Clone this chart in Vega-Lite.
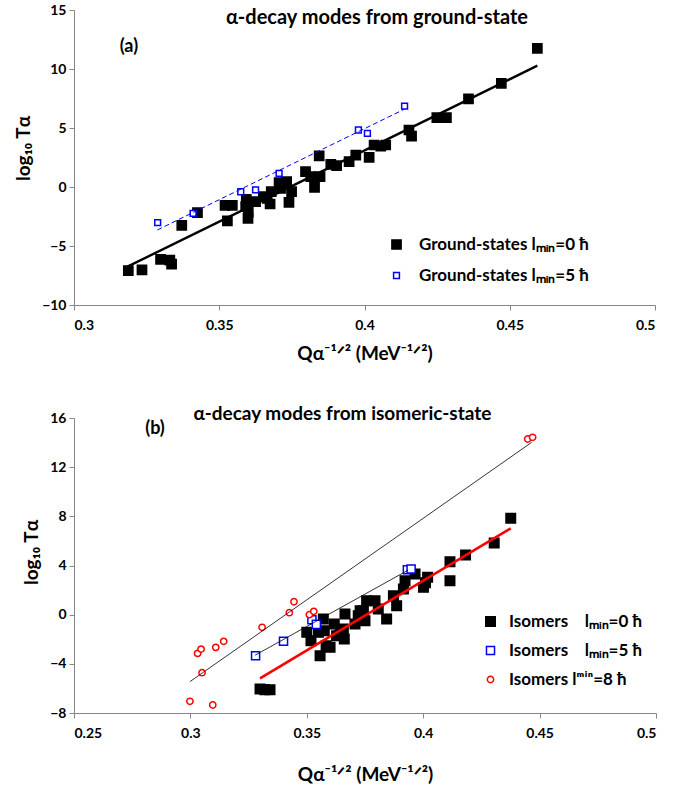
{
  "$schema": "https://vega.github.io/schema/vega-lite/v6.json",
  "background": "white",
  "padding": {"left": 14, "top": 3, "right": 5, "bottom": 3},
  "config": {
    "view": {"stroke": null},
    "font": "Lato",
    "axis": {"grid": false, "domainColor": "#868686", "tickColor": "#868686", "tickSize": 5, "labelFont": "Lato", "labelFontWeight": "bold", "labelFontSize": 14, "labelColor": "#000000", "titleFont": "Lato", "titleFontWeight": "bold", "titleFontSize": 19, "titleColor": "#000000"},
    "axisX": {"labelPadding": 8, "titlePadding": 12},
    "axisY": {"labelPadding": 3, "titlePadding": 8},
    "legend": {"title": null, "orient": "none", "labelFont": "Lato", "labelFontSize": 17, "labelFontWeight": "bold", "labelColor": "#000000", "labelLimit": 400, "symbolStrokeWidth": 1.5}
  },
  "datasets": {
    "ga": [
      {"x": 0.3187, "y": -7.09, "s": "Ground-states lₘᵢₙ=0 ħ"},
      {"x": 0.3234, "y": -7.03, "s": "Ground-states lₘᵢₙ=0 ħ"},
      {"x": 0.3298, "y": -6.13, "s": "Ground-states lₘᵢₙ=0 ħ"},
      {"x": 0.3330, "y": -6.19, "s": "Ground-states lₘᵢₙ=0 ħ"},
      {"x": 0.3336, "y": -6.53, "s": "Ground-states lₘᵢₙ=0 ħ"},
      {"x": 0.3371, "y": -3.25, "s": "Ground-states lₘᵢₙ=0 ħ"},
      {"x": 0.3425, "y": -2.18, "s": "Ground-states lₘᵢₙ=0 ħ"},
      {"x": 0.3520, "y": -1.55, "s": "Ground-states lₘᵢₙ=0 ħ"},
      {"x": 0.3545, "y": -1.55, "s": "Ground-states lₘᵢₙ=0 ħ"},
      {"x": 0.3528, "y": -2.88, "s": "Ground-states lₘᵢₙ=0 ħ"},
      {"x": 0.3593, "y": -1.04, "s": "Ground-states lₘᵢₙ=0 ħ"},
      {"x": 0.3591, "y": -1.67, "s": "Ground-states lₘᵢₙ=0 ħ"},
      {"x": 0.3600, "y": -2.12, "s": "Ground-states lₘᵢₙ=0 ħ"},
      {"x": 0.3599, "y": -2.65, "s": "Ground-states lₘᵢₙ=0 ħ"},
      {"x": 0.3625, "y": -1.24, "s": "Ground-states lₘᵢₙ=0 ħ"},
      {"x": 0.3652, "y": -0.82, "s": "Ground-states lₘᵢₙ=0 ħ"},
      {"x": 0.3665, "y": -0.96, "s": "Ground-states lₘᵢₙ=0 ħ"},
      {"x": 0.3675, "y": -1.44, "s": "Ground-states lₘᵢₙ=0 ħ"},
      {"x": 0.3679, "y": -0.40, "s": "Ground-states lₘᵢₙ=0 ħ"},
      {"x": 0.3706, "y": 0.37, "s": "Ground-states lₘᵢₙ=0 ħ"},
      {"x": 0.3732, "y": 0.45, "s": "Ground-states lₘᵢₙ=0 ħ"},
      {"x": 0.3711, "y": -0.11, "s": "Ground-states lₘᵢₙ=0 ħ"},
      {"x": 0.3749, "y": -0.40, "s": "Ground-states lₘᵢₙ=0 ħ"},
      {"x": 0.3740, "y": -1.30, "s": "Ground-states lₘᵢₙ=0 ħ"},
      {"x": 0.3797, "y": 1.30, "s": "Ground-states lₘᵢₙ=0 ħ"},
      {"x": 0.3815, "y": 0.88, "s": "Ground-states lₘᵢₙ=0 ħ"},
      {"x": 0.3828, "y": -0.03, "s": "Ground-states lₘᵢₙ=0 ħ"},
      {"x": 0.3847, "y": 0.88, "s": "Ground-states lₘᵢₙ=0 ħ"},
      {"x": 0.3844, "y": 2.63, "s": "Ground-states lₘᵢₙ=0 ħ"},
      {"x": 0.3884, "y": 1.92, "s": "Ground-states lₘᵢₙ=0 ħ"},
      {"x": 0.3904, "y": 1.81, "s": "Ground-states lₘᵢₙ=0 ħ"},
      {"x": 0.3947, "y": 2.15, "s": "Ground-states lₘᵢₙ=0 ħ"},
      {"x": 0.3970, "y": 2.71, "s": "Ground-states lₘᵢₙ=0 ħ"},
      {"x": 0.4016, "y": 2.51, "s": "Ground-states lₘᵢₙ=0 ħ"},
      {"x": 0.4033, "y": 3.56, "s": "Ground-states lₘᵢₙ=0 ħ"},
      {"x": 0.4056, "y": 3.47, "s": "Ground-states lₘᵢₙ=0 ħ"},
      {"x": 0.4073, "y": 3.56, "s": "Ground-states lₘᵢₙ=0 ħ"},
      {"x": 0.4153, "y": 4.83, "s": "Ground-states lₘᵢₙ=0 ħ"},
      {"x": 0.4162, "y": 4.32, "s": "Ground-states lₘᵢₙ=0 ħ"},
      {"x": 0.4249, "y": 5.88, "s": "Ground-states lₘᵢₙ=0 ħ"},
      {"x": 0.4282, "y": 5.88, "s": "Ground-states lₘᵢₙ=0 ħ"},
      {"x": 0.4358, "y": 7.46, "s": "Ground-states lₘᵢₙ=0 ħ"},
      {"x": 0.4471, "y": 8.79, "s": "Ground-states lₘᵢₙ=0 ħ"},
      {"x": 0.4595, "y": 11.75, "s": "Ground-states lₘᵢₙ=0 ħ"},
      {"x": 0.3288, "y": -3.02, "s": "Ground-states lₘᵢₙ=5 ħ"},
      {"x": 0.3410, "y": -2.23, "s": "Ground-states lₘᵢₙ=5 ħ"},
      {"x": 0.3574, "y": -0.40, "s": "Ground-states lₘᵢₙ=5 ħ"},
      {"x": 0.3625, "y": -0.25, "s": "Ground-states lₘᵢₙ=5 ħ"},
      {"x": 0.3706, "y": 1.16, "s": "Ground-states lₘᵢₙ=5 ħ"},
      {"x": 0.3979, "y": 4.83, "s": "Ground-states lₘᵢₙ=5 ħ"},
      {"x": 0.4010, "y": 4.55, "s": "Ground-states lₘᵢₙ=5 ħ"},
      {"x": 0.4138, "y": 6.86, "s": "Ground-states lₘᵢₙ=5 ħ"}
    ],
    "fitA0": [{"x": 0.3184, "y": -6.75}, {"x": 0.4595, "y": 10.28}],
    "fitA5": [{"x": 0.3287, "y": -3.64}, {"x": 0.4136, "y": 6.58}],
    "gb": [
      {"x": 0.3299, "y": -6.05, "s": "Isomers\u00a0\u00a0\u00a0\u00a0lₘᵢₙ=0 ħ"},
      {"x": 0.3320, "y": -6.10, "s": "Isomers\u00a0\u00a0\u00a0\u00a0lₘᵢₙ=0 ħ"},
      {"x": 0.3342, "y": -6.10, "s": "Isomers\u00a0\u00a0\u00a0\u00a0lₘᵢₙ=0 ħ"},
      {"x": 0.3500, "y": -1.44, "s": "Isomers\u00a0\u00a0\u00a0\u00a0lₘᵢₙ=0 ħ"},
      {"x": 0.3518, "y": -2.12, "s": "Isomers\u00a0\u00a0\u00a0\u00a0lₘᵢₙ=0 ħ"},
      {"x": 0.3550, "y": -1.44, "s": "Isomers\u00a0\u00a0\u00a0\u00a0lₘᵢₙ=0 ħ"},
      {"x": 0.3571, "y": -0.36, "s": "Isomers\u00a0\u00a0\u00a0\u00a0lₘᵢₙ=0 ħ"},
      {"x": 0.3557, "y": -3.34, "s": "Isomers\u00a0\u00a0\u00a0\u00a0lₘᵢₙ=0 ħ"},
      {"x": 0.3575, "y": -1.31, "s": "Isomers\u00a0\u00a0\u00a0\u00a0lₘᵢₙ=0 ħ"},
      {"x": 0.3583, "y": -2.53, "s": "Isomers\u00a0\u00a0\u00a0\u00a0lₘᵢₙ=0 ħ"},
      {"x": 0.3600, "y": -2.66, "s": "Isomers\u00a0\u00a0\u00a0\u00a0lₘᵢₙ=0 ħ"},
      {"x": 0.3618, "y": -0.76, "s": "Isomers\u00a0\u00a0\u00a0\u00a0lₘᵢₙ=0 ħ"},
      {"x": 0.3628, "y": -1.71, "s": "Isomers\u00a0\u00a0\u00a0\u00a0lₘᵢₙ=0 ħ"},
      {"x": 0.3643, "y": -1.58, "s": "Isomers\u00a0\u00a0\u00a0\u00a0lₘᵢₙ=0 ħ"},
      {"x": 0.3657, "y": -1.17, "s": "Isomers\u00a0\u00a0\u00a0\u00a0lₘᵢₙ=0 ħ"},
      {"x": 0.3661, "y": -1.98, "s": "Isomers\u00a0\u00a0\u00a0\u00a0lₘᵢₙ=0 ħ"},
      {"x": 0.3664, "y": 0.05, "s": "Isomers\u00a0\u00a0\u00a0\u00a0lₘᵢₙ=0 ħ"},
      {"x": 0.3707, "y": -0.76, "s": "Isomers\u00a0\u00a0\u00a0\u00a0lₘᵢₙ=0 ħ"},
      {"x": 0.3721, "y": -0.09, "s": "Isomers\u00a0\u00a0\u00a0\u00a0lₘᵢₙ=0 ħ"},
      {"x": 0.3729, "y": 0.32, "s": "Isomers\u00a0\u00a0\u00a0\u00a0lₘᵢₙ=0 ħ"},
      {"x": 0.3743, "y": 0.32, "s": "Isomers\u00a0\u00a0\u00a0\u00a0lₘᵢₙ=0 ħ"},
      {"x": 0.3750, "y": -0.49, "s": "Isomers\u00a0\u00a0\u00a0\u00a0lₘᵢₙ=0 ħ"},
      {"x": 0.3757, "y": 1.14, "s": "Isomers\u00a0\u00a0\u00a0\u00a0lₘᵢₙ=0 ħ"},
      {"x": 0.3793, "y": 1.14, "s": "Isomers\u00a0\u00a0\u00a0\u00a0lₘᵢₙ=0 ħ"},
      {"x": 0.3807, "y": 0.46, "s": "Isomers\u00a0\u00a0\u00a0\u00a0lₘᵢₙ=0 ħ"},
      {"x": 0.3843, "y": -0.36, "s": "Isomers\u00a0\u00a0\u00a0\u00a0lₘᵢₙ=0 ħ"},
      {"x": 0.3872, "y": 1.54, "s": "Isomers\u00a0\u00a0\u00a0\u00a0lₘᵢₙ=0 ħ"},
      {"x": 0.3886, "y": 0.73, "s": "Isomers\u00a0\u00a0\u00a0\u00a0lₘᵢₙ=0 ħ"},
      {"x": 0.3915, "y": 2.09, "s": "Isomers\u00a0\u00a0\u00a0\u00a0lₘᵢₙ=0 ħ"},
      {"x": 0.3922, "y": 2.76, "s": "Isomers\u00a0\u00a0\u00a0\u00a0lₘᵢₙ=0 ħ"},
      {"x": 0.3965, "y": 3.31, "s": "Isomers\u00a0\u00a0\u00a0\u00a0lₘᵢₙ=0 ħ"},
      {"x": 0.4001, "y": 2.22, "s": "Isomers\u00a0\u00a0\u00a0\u00a0lₘᵢₙ=0 ħ"},
      {"x": 0.4010, "y": 2.60, "s": "Isomers\u00a0\u00a0\u00a0\u00a0lₘᵢₙ=0 ħ"},
      {"x": 0.4019, "y": 3.04, "s": "Isomers\u00a0\u00a0\u00a0\u00a0lₘᵢₙ=0 ħ"},
      {"x": 0.4115, "y": 4.31, "s": "Isomers\u00a0\u00a0\u00a0\u00a0lₘᵢₙ=0 ħ"},
      {"x": 0.4115, "y": 2.76, "s": "Isomers\u00a0\u00a0\u00a0\u00a0lₘᵢₙ=0 ħ"},
      {"x": 0.4182, "y": 4.85, "s": "Isomers\u00a0\u00a0\u00a0\u00a0lₘᵢₙ=0 ħ"},
      {"x": 0.4305, "y": 5.83, "s": "Isomers\u00a0\u00a0\u00a0\u00a0lₘᵢₙ=0 ħ"},
      {"x": 0.4376, "y": 7.84, "s": "Isomers\u00a0\u00a0\u00a0\u00a0lₘᵢₙ=0 ħ"},
      {"x": 0.3280, "y": -3.34, "s": "Isomers\u00a0\u00a0\u00a0\u00a0lₘᵢₙ=5 ħ"},
      {"x": 0.3400, "y": -2.17, "s": "Isomers\u00a0\u00a0\u00a0\u00a0lₘᵢₙ=5 ħ"},
      {"x": 0.3522, "y": -0.41, "s": "Isomers\u00a0\u00a0\u00a0\u00a0lₘᵢₙ=5 ħ"},
      {"x": 0.3541, "y": -0.79, "s": "Isomers\u00a0\u00a0\u00a0\u00a0lₘᵢₙ=5 ħ"},
      {"x": 0.3932, "y": 3.66, "s": "Isomers\u00a0\u00a0\u00a0\u00a0lₘᵢₙ=5 ħ"},
      {"x": 0.3948, "y": 3.71, "s": "Isomers\u00a0\u00a0\u00a0\u00a0lₘᵢₙ=5 ħ"},
      {"x": 0.2998, "y": -7.05, "s": "Isomers lᵐⁱⁿ=8 ħ"},
      {"x": 0.3096, "y": -7.35, "s": "Isomers lᵐⁱⁿ=8 ħ"},
      {"x": 0.3031, "y": -3.15, "s": "Isomers lᵐⁱⁿ=8 ħ"},
      {"x": 0.3046, "y": -2.80, "s": "Isomers lᵐⁱⁿ=8 ħ"},
      {"x": 0.3050, "y": -4.72, "s": "Isomers lᵐⁱⁿ=8 ħ"},
      {"x": 0.3109, "y": -2.66, "s": "Isomers lᵐⁱⁿ=8 ħ"},
      {"x": 0.3143, "y": -2.17, "s": "Isomers lᵐⁱⁿ=8 ħ"},
      {"x": 0.3308, "y": -1.03, "s": "Isomers lᵐⁱⁿ=8 ħ"},
      {"x": 0.3425, "y": 0.16, "s": "Isomers lᵐⁱⁿ=8 ħ"},
      {"x": 0.3445, "y": 1.05, "s": "Isomers lᵐⁱⁿ=8 ħ"},
      {"x": 0.3511, "y": 0.00, "s": "Isomers lᵐⁱⁿ=8 ħ"},
      {"x": 0.3530, "y": 0.27, "s": "Isomers lᵐⁱⁿ=8 ħ"},
      {"x": 0.4449, "y": 14.29, "s": "Isomers lᵐⁱⁿ=8 ħ"},
      {"x": 0.4470, "y": 14.43, "s": "Isomers lᵐⁱⁿ=8 ħ"}
    ],
    "fitB8": [{"x": 0.2998, "y": -5.45}, {"x": 0.4466, "y": 14.02}],
    "fitB5": [{"x": 0.3278, "y": -3.3}, {"x": 0.3935, "y": 3.62}],
    "fitB0": [{"x": 0.3299, "y": -5.18}, {"x": 0.4376, "y": 7.02}]
  },
  "vconcat": [
    {
      "width": 581,
      "height": 295,
      "encoding": {
        "x": {"field": "x", "type": "quantitative", "scale": {"domain": [0.3, 0.5], "nice": false, "zero": false}, "axis": {"values": [0.3, 0.35, 0.4, 0.45, 0.5], "format": "~g", "title": "Qα⁻¹ᐟ² (MeV⁻¹ᐟ²)"}},
        "y": {"field": "y", "type": "quantitative", "scale": {"domain": [-10, 15], "nice": false, "zero": false}, "axis": {"values": [-10, -5, 0, 5, 10, 15], "title": "log₁₀ Tα", "titleY": 138}}
      },
      "layer": [
        {
          "data": {"name": "ga"},
          "mark": {"type": "point", "filled": true, "opacity": 1, "fillOpacity": 1, "strokeWidth": 1.5},
          "encoding": {
            "shape": {"field": "s", "type": "nominal", "scale": {"domain": ["Ground-states lₘᵢₙ=0 ħ", "Ground-states lₘᵢₙ=5 ħ"], "range": ["square", "square"]}, "legend": {"legendX": 314, "legendY": 226, "rowPadding": 13, "labelOffset": 14}},
            "fill": {"field": "s", "type": "nominal", "scale": {"domain": ["Ground-states lₘᵢₙ=0 ħ", "Ground-states lₘᵢₙ=5 ħ"], "range": ["#000000", "#ffffff"]}, "legend": {"legendX": 314, "legendY": 226, "rowPadding": 13, "labelOffset": 14}},
            "stroke": {"field": "s", "type": "nominal", "scale": {"domain": ["Ground-states lₘᵢₙ=0 ħ", "Ground-states lₘᵢₙ=5 ħ"], "range": ["#000000", "#0000ff"]}, "legend": {"legendX": 314, "legendY": 226, "rowPadding": 13, "labelOffset": 14}},
            "size": {"field": "s", "type": "ordinal", "scale": {"domain": ["Ground-states lₘᵢₙ=0 ħ", "Ground-states lₘᵢₙ=5 ħ"], "range": [85, 34]}, "legend": {"legendX": 314, "legendY": 226, "rowPadding": 13, "labelOffset": 14}}
          }
        },
        {
          "data": {"name": "fitA0"},
          "mark": {"type": "line", "color": "#000000", "strokeWidth": 2.4},
          "encoding": {}
        },
        {
          "data": {"name": "fitA5"},
          "mark": {"type": "line", "color": "#0000ff", "strokeWidth": 1, "strokeDash": [5, 3]},
          "encoding": {}
        },
        {
          "data": {"values": [{"x": 0.4043, "y": 14.3, "t": "α-decay modes from ground-state"}]},
          "mark": {"type": "text", "font": "Lato", "fontWeight": "bold", "fontSize": 20, "color": "#000000", "baseline": "middle", "align": "center"},
          "encoding": {"text": {"field": "t"}}
        },
        {
          "data": {"values": [{"x": 0.3189, "y": 11.86, "t": "(a)"}]},
          "mark": {"type": "text", "font": "Lato", "fontWeight": "bold", "fontSize": 18, "color": "#000000", "baseline": "middle", "align": "center"},
          "encoding": {"text": {"field": "t"}}
        }
      ]
    },
    {
      "width": 582,
      "height": 295,
      "encoding": {
        "x": {"field": "x", "type": "quantitative", "scale": {"domain": [0.25, 0.5], "nice": false, "zero": false}, "axis": {"values": [0.25, 0.3, 0.35, 0.4, 0.45, 0.5], "format": "~g", "title": "Qα⁻¹ᐟ² (MeV⁻¹ᐟ²)", "titlePadding": 25}},
        "y": {"field": "y", "type": "quantitative", "scale": {"domain": [-8, 16], "nice": false, "zero": false}, "axis": {"values": [-8, -4, 0, 4, 8, 12, 16], "title": "log₁₀ Tα", "titleY": 134}}
      },
      "layer": [
        {
          "data": {"name": "gb"},
          "mark": {"type": "point", "filled": true, "opacity": 1, "fillOpacity": 1, "strokeWidth": 1.5},
          "encoding": {
            "shape": {"field": "s", "type": "nominal", "scale": {"domain": ["Isomers\u00a0\u00a0\u00a0\u00a0lₘᵢₙ=0 ħ", "Isomers\u00a0\u00a0\u00a0\u00a0lₘᵢₙ=5 ħ", "Isomers lᵐⁱⁿ=8 ħ"], "range": ["square", "square", "circle"]}, "legend": {"legendX": 408, "legendY": 195, "rowPadding": 11, "labelOffset": 10}},
            "fill": {"field": "s", "type": "nominal", "scale": {"domain": ["Isomers\u00a0\u00a0\u00a0\u00a0lₘᵢₙ=0 ħ", "Isomers\u00a0\u00a0\u00a0\u00a0lₘᵢₙ=5 ħ", "Isomers lᵐⁱⁿ=8 ħ"], "range": ["#000000", "#ffffff", "#ffffff"]}, "legend": {"legendX": 408, "legendY": 195, "rowPadding": 11, "labelOffset": 10}},
            "stroke": {"field": "s", "type": "nominal", "scale": {"domain": ["Isomers\u00a0\u00a0\u00a0\u00a0lₘᵢₙ=0 ħ", "Isomers\u00a0\u00a0\u00a0\u00a0lₘᵢₙ=5 ħ", "Isomers lᵐⁱⁿ=8 ħ"], "range": ["#000000", "#0000ff", "#ff0000"]}, "legend": {"legendX": 408, "legendY": 195, "rowPadding": 11, "labelOffset": 10}},
            "size": {"field": "s", "type": "ordinal", "scale": {"domain": ["Isomers\u00a0\u00a0\u00a0\u00a0lₘᵢₙ=0 ħ", "Isomers\u00a0\u00a0\u00a0\u00a0lₘᵢₙ=5 ħ", "Isomers lᵐⁱⁿ=8 ħ"], "range": [90, 40, 70]}, "legend": {"legendX": 408, "legendY": 195, "rowPadding": 11, "labelOffset": 10}}
          }
        },
        {
          "data": {"name": "fitB8"},
          "mark": {"type": "line", "color": "#000000", "strokeWidth": 0.8},
          "encoding": {}
        },
        {
          "data": {"name": "fitB5"},
          "mark": {"type": "line", "color": "#000000", "strokeWidth": 0.8},
          "encoding": {}
        },
        {
          "data": {"name": "fitB0"},
          "mark": {"type": "line", "color": "#ff0000", "strokeWidth": 2.6},
          "encoding": {}
        },
        {
          "data": {"values": [{"x": 0.3653, "y": 16.3, "t": "α-decay modes from isomeric-state"}]},
          "mark": {"type": "text", "font": "Lato", "fontWeight": "bold", "fontSize": 19, "color": "#000000", "baseline": "middle", "align": "center"},
          "encoding": {"text": {"field": "t"}}
        },
        {
          "data": {"values": [{"x": 0.2848, "y": 15.1, "t": "(b)"}]},
          "mark": {"type": "text", "font": "Lato", "fontWeight": "bold", "fontSize": 18, "color": "#000000", "baseline": "middle", "align": "center"},
          "encoding": {"text": {"field": "t"}}
        }
      ]
    }
  ],
  "spacing": 42,
  "resolve": {
    "scale": {"shape": "independent", "fill": "independent", "stroke": "independent", "size": "independent"},
    "legend": {"shape": "independent", "fill": "independent", "stroke": "independent", "size": "independent"}
  }
}
